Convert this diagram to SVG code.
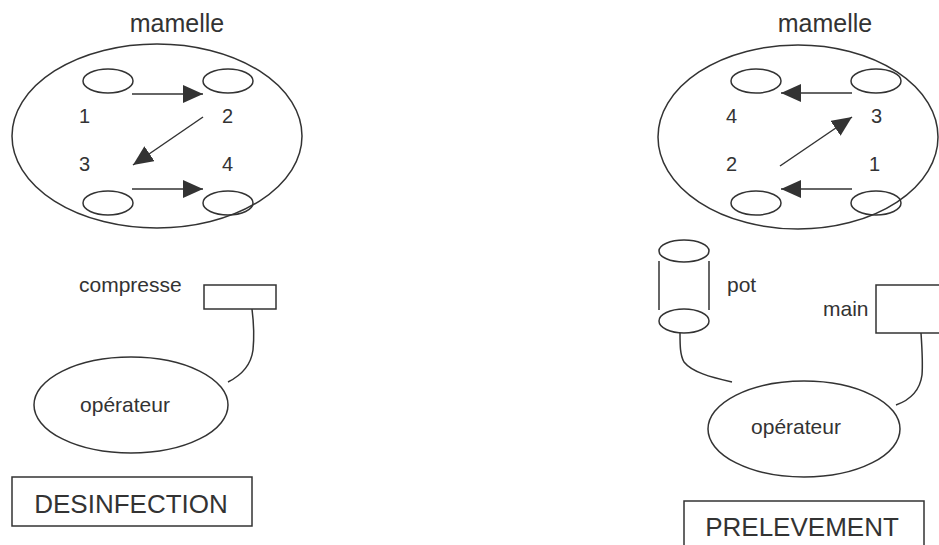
<svg xmlns="http://www.w3.org/2000/svg" width="939" height="545" viewBox="0 0 939 545">
<defs>
<marker id="ah" viewBox="0 0 20 18" refX="20" refY="9" markerWidth="20" markerHeight="18" markerUnits="userSpaceOnUse" orient="auto">
<path d="M0,0 L20,9 L0,18 Z" fill="#333"/>
</marker>
<style>
.s{fill:none;stroke:#333;stroke-width:1.5}
.t{font-family:"Liberation Sans",Arial,sans-serif;fill:#333}
.n{font-family:"Liberation Sans",Arial,sans-serif;fill:#333;font-size:20px}
.a{fill:none;stroke:#333;stroke-width:1.5;marker-end:url(#ah)}
</style>
</defs>
<rect width="939" height="545" fill="#fff"/>

<g id="mamelle-left">
<text class="t" x="177" y="32" font-size="25" text-anchor="middle">mamelle</text>
<ellipse class="s" cx="157" cy="136" rx="145" ry="92"/>
<ellipse class="s" cx="108" cy="81" rx="25" ry="12"/>
<ellipse class="s" cx="228" cy="81" rx="25" ry="12"/>
<ellipse class="s" cx="108" cy="203" rx="25" ry="12"/>
<ellipse class="s" cx="228" cy="203" rx="25" ry="12"/>
<text class="n" x="79" y="123">1</text>
<text class="n" x="222" y="123">2</text>
<text class="n" x="79" y="171">3</text>
<text class="n" x="222" y="171">4</text>
</g>

<g id="mamelle-right">
<text class="t" x="825" y="32" font-size="25" text-anchor="middle">mamelle</text>
<ellipse class="s" cx="798" cy="137" rx="140" ry="92"/>
<ellipse class="s" cx="756" cy="81" rx="25" ry="12"/>
<ellipse class="s" cx="876" cy="81" rx="25" ry="12"/>
<ellipse class="s" cx="756" cy="203" rx="25" ry="12"/>
<ellipse class="s" cx="876" cy="203" rx="25" ry="12"/>
<text class="n" x="726" y="123">4</text>
<text class="n" x="871" y="123">3</text>
<text class="n" x="726" y="171">2</text>
<text class="n" x="869" y="171">1</text>
</g>

<g id="compresse">
<text class="t" x="79" y="292" font-size="21">compresse</text>
<rect class="s" x="204" y="285" width="72" height="24"/>
</g>

<g id="operateur-left">
<ellipse class="s" cx="131" cy="405" rx="97" ry="48"/>
<text class="t" x="125" y="412" font-size="21" text-anchor="middle">opérateur</text>
</g>

<g id="desinfection">
<rect class="s" x="12" y="477" width="240" height="49"/>
<text class="t" x="131" y="513" font-size="26" text-anchor="middle">DESINFECTION</text>
</g>

<g id="pot">
<ellipse class="s" cx="684" cy="251" rx="25" ry="11"/>
<line class="s" x1="659" y1="261" x2="659" y2="310"/>
<line class="s" x1="709" y1="261" x2="709" y2="310"/>
<ellipse class="s" cx="684" cy="321" rx="25" ry="12"/>
<text class="t" x="727" y="292" font-size="21">pot</text>
</g>

<g id="main">
<text class="t" x="823" y="316" font-size="21">main</text>
<rect class="s" x="876" y="285" width="70" height="48"/>
</g>

<g id="operateur-right">
<ellipse class="s" cx="804" cy="429" rx="96" ry="48"/>
<text class="t" x="796" y="434" font-size="21" text-anchor="middle">opérateur</text>
</g>

<g id="prelevement">
<rect class="s" x="684" y="501" width="240" height="60"/>
<text class="t" x="802" y="536" font-size="26" text-anchor="middle">PRELEVEMENT</text>
</g>

<g id="connectors">
<line class="a" x1="132" y1="94" x2="203" y2="94"/>
<line class="a" x1="203" y1="117" x2="133" y2="165"/>
<line class="a" x1="132" y1="189" x2="203" y2="189"/>
<line class="a" x1="852" y1="93" x2="781" y2="93"/>
<line class="a" x1="780" y1="166" x2="852" y2="117"/>
<line class="a" x1="852" y1="189" x2="781" y2="189"/>
<path class="s" d="M252,309 C254,325 254,340 253,350 C251,365 242,375 228,382"/>
<path class="s" d="M680,333 C680,345 680,355 684,362 C692,372 710,377 732,382"/>
<path class="s" d="M921,333 C922,348 923,362 922,375 C920,390 910,400 896,405"/>
</g>
</svg>
